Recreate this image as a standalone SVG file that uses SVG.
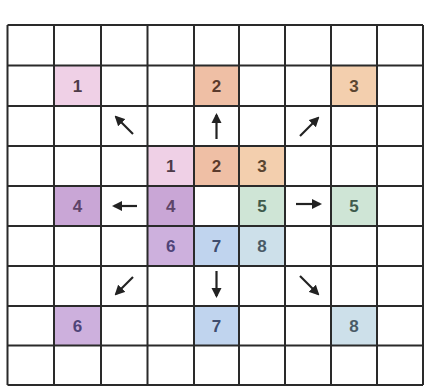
<svg xmlns="http://www.w3.org/2000/svg" width="433" height="388" viewBox="0 0 433 388">
<defs>
<marker id="ah" viewBox="0 0 10 10" refX="8" refY="5" markerWidth="4.6" markerHeight="4.6" orient="auto" markerUnits="strokeWidth">
<path d="M0,0 L10,5 L0,10 Z" fill="#222"/>
</marker>
<style>
.grid line{stroke:#2a2a2a;stroke-width:2;}
.n{font-family:"Liberation Sans",Arial,sans-serif;font-size:17px;font-weight:bold;text-anchor:middle;dominant-baseline:central;}
.arr{stroke:#222;stroke-width:2.2;fill:none;marker-end:url(#ah);}
.c1{fill:#efd0e6}.c2{fill:#efbfa5}.c3{fill:#f3cfae}.c4{fill:#c9a6d6}.c5{fill:#cfe5d6}.c6{fill:#cdb0dd}.c7{fill:#c0d4ee}.c8{fill:#cde0ea}
.t1{fill:#4d3a48}.t2{fill:#5a3a2c}.t3{fill:#5a4530}.t4{fill:#5e4468}.t5{fill:#3f5a4c}.t6{fill:#4f4478}.t7{fill:#3e4c6e}.t8{fill:#4a5a66}
</style>
</defs>
<rect width="433" height="388" fill="#ffffff"/>
<g id="cells">
<g id="n1a"><rect class="c1" x="54" y="65.5" width="47" height="40.5"/><text class="n t1" x="77.5" y="86">1</text></g>
<g id="n2a"><rect class="c2" x="194" y="65.5" width="45" height="40.5"/><text class="n t2" x="216.5" y="86">2</text></g>
<g id="n3a"><rect class="c3" x="331" y="65.5" width="46" height="40.5"/><text class="n t3" x="354" y="86">3</text></g>
<g id="n1b"><rect class="c1" x="147.5" y="146" width="46.5" height="40"/><text class="n t1" x="170.75" y="166">1</text></g>
<g id="n2b"><rect class="c2" x="194" y="146" width="45" height="40"/><text class="n t2" x="216.5" y="166">2</text></g>
<g id="n3b"><rect class="c3" x="239" y="146" width="46" height="40"/><text class="n t3" x="262" y="166">3</text></g>
<g id="n4a"><rect class="c4" x="54" y="186" width="47" height="40"/><text class="n t4" x="77.5" y="206">4</text></g>
<g id="n4b"><rect class="c4" x="147.5" y="186" width="46.5" height="40"/><text class="n t4" x="170.75" y="206">4</text></g>
<g id="n5b"><rect class="c5" x="239" y="186" width="46" height="40"/><text class="n t5" x="262" y="206">5</text></g>
<g id="n5a"><rect class="c5" x="331" y="186" width="46" height="40"/><text class="n t5" x="354" y="206">5</text></g>
<g id="n6b"><rect class="c6" x="147.5" y="226" width="46.5" height="40"/><text class="n t6" x="170.75" y="246">6</text></g>
<g id="n7b"><rect class="c7" x="194" y="226" width="45" height="40"/><text class="n t7" x="216.5" y="246">7</text></g>
<g id="n8b"><rect class="c8" x="239" y="226" width="46" height="40"/><text class="n t8" x="262" y="246">8</text></g>
<g id="n6a"><rect class="c6" x="54" y="306" width="47" height="39.5"/><text class="n t6" x="77.5" y="326">6</text></g>
<g id="n7a"><rect class="c7" x="194" y="306" width="45" height="39.5"/><text class="n t7" x="216.5" y="326">7</text></g>
<g id="n8a"><rect class="c8" x="331" y="306" width="46" height="39.5"/><text class="n t8" x="354" y="326">8</text></g>
</g>
<g id="grid" class="grid">
<line x1="7.5" y1="25" x2="7.5" y2="385"/>
<line x1="54" y1="25" x2="54" y2="385"/>
<line x1="101" y1="25" x2="101" y2="385"/>
<line x1="147.5" y1="25" x2="147.5" y2="385"/>
<line x1="194" y1="25" x2="194" y2="385"/>
<line x1="239" y1="25" x2="239" y2="385"/>
<line x1="285" y1="25" x2="285" y2="385"/>
<line x1="331" y1="25" x2="331" y2="385"/>
<line x1="377" y1="25" x2="377" y2="385"/>
<line x1="423" y1="25" x2="423" y2="385"/>
<line x1="7.5" y1="25" x2="423" y2="25"/>
<line x1="7.5" y1="65.5" x2="423" y2="65.5"/>
<line x1="7.5" y1="106" x2="423" y2="106"/>
<line x1="7.5" y1="146" x2="423" y2="146"/>
<line x1="7.5" y1="186" x2="423" y2="186"/>
<line x1="7.5" y1="226" x2="423" y2="226"/>
<line x1="7.5" y1="266" x2="423" y2="266"/>
<line x1="7.5" y1="306" x2="423" y2="306"/>
<line x1="7.5" y1="345.5" x2="423" y2="345.5"/>
<line x1="7.5" y1="385" x2="423" y2="385"/>
</g>
<g id="connectors">
<path class="arr" d="M133,134 L116,117"/>
<path class="arr" d="M216.5,139 L216.5,115"/>
<path class="arr" d="M300,136 L318,118"/>
<path class="arr" d="M137,206 L114,206"/>
<path class="arr" d="M296,204 L320,204"/>
<path class="arr" d="M133,277 L116,294"/>
<path class="arr" d="M216.5,271 L216.5,296"/>
<path class="arr" d="M300,276 L318,294"/>
</g>
</svg>
